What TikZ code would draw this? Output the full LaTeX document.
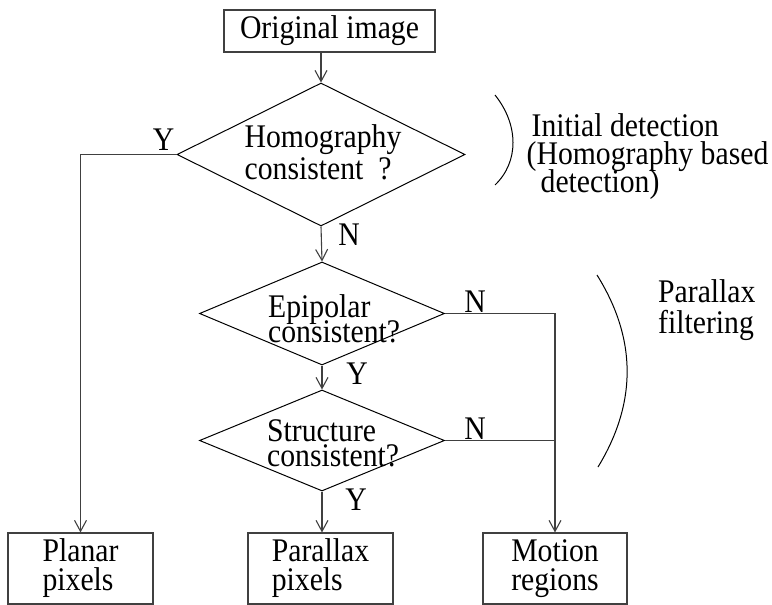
\documentclass[tikz,border=0pt]{standalone}
\usepackage{fontspec}
\setmainfont{Liberation Serif}[FakeStretch=0.9]
\usetikzlibrary{shapes.geometric,arrows.meta}
\newcommand{\tightskip}[1]{\fontsize{33}{#1}\selectfont\lineskiplimit=-50pt\relax}
\begin{document}
\begin{tikzpicture}[x=1pt, y=-1pt,
		box/.style={rectangle, draw=black!75, line width=1.1pt, inner sep=0pt, align=left, font={\tightskip{29}}},
		decision/.style={diamond, draw=black, line width=1pt, inner sep=0pt},
		txt/.style={inner sep=0pt, align=left, font={\tightskip{#1}}},
		txt/.default=32,
		lbl/.style={inner sep=0pt, font={\tightskip{30}}},
		flow/.style={draw=black!75, line width=1.1pt, -{Straight Barb[length=11pt,width=12pt]}},
		wire/.style={draw=black!75, line width=1.1pt}]
			\useasboundingbox (0,0) rectangle (772,605);
			\node[box, minimum width=211pt, minimum height=42pt] (orig) at (329.5,31) {Original image};
			\node[decision, minimum width=288pt, minimum height=143pt] (hom) at (321,154.5) {};
			\node[txt, anchor=north west] (homtxt) at (244.5,124) {Homography\\consistent\ \ ?};
			\node[decision, minimum width=245pt, minimum height=103pt] (epi) at (322,313.5) {};
			\node[txt=25, anchor=north west] (epitxt) at (268,294) {Epipolar\\consistent?};
			\node[decision, minimum width=245pt, minimum height=101pt] (str) at (322,440.5) {};
			\node[txt=25, anchor=north west] (strtxt) at (267,419.5) {Structure\\consistent?};
			\node[box, minimum width=145pt, minimum height=71pt] (planar) at (80.5,568.5) {Planar\\pixels};
			\node[box, minimum width=145pt, minimum height=71pt] (par) at (320.5,568.5) {Parallax\\pixels};
			\node[box, minimum width=144pt, minimum height=71pt] (motion) at (555,568.5) {Motion\\regions};
			\draw[flow] (orig.south -| hom.north) -- (hom.north);
			\draw[flow] (hom.west) -| (planar.north);
			\draw[flow] (hom.south) -- (epi.north);
			\draw[flow] (epi.south) -- (str.north);
			\draw[flow] (str.south) -- (str.south |- par.north);
			\draw[flow] (epi.east) -| (motion.north);
			\draw[wire] (str.east) -- (str.east -| motion.north);
			\node[lbl] (yhom) at (163.5,139.5) {Y};
			\node[lbl] (nhom) at (349,235) {N};
			\node[lbl] (nepi) at (475,302) {N};
			\node[lbl] (yepi) at (357,374) {Y};
			\node[lbl] (nstr) at (475,428.5) {N};
			\node[lbl] (ystr) at (356,499.5) {Y};
			\node[txt=28, anchor=north west] (initxt) at (526.5,113) {\hspace*{5pt}Initial detection\\(Homography based\\\hspace*{14pt}detection)};
			\draw[line width=1pt] (495,95) .. controls (519,125) and (519,162) .. (495,185);
			\node[txt=31, anchor=north west] (partxt) at (658,279.5) {Parallax\\filtering};
			\draw[line width=1pt] (597,275) .. controls (637,339) and (637,403) .. (598,467);
		\end{tikzpicture}
\end{document}
